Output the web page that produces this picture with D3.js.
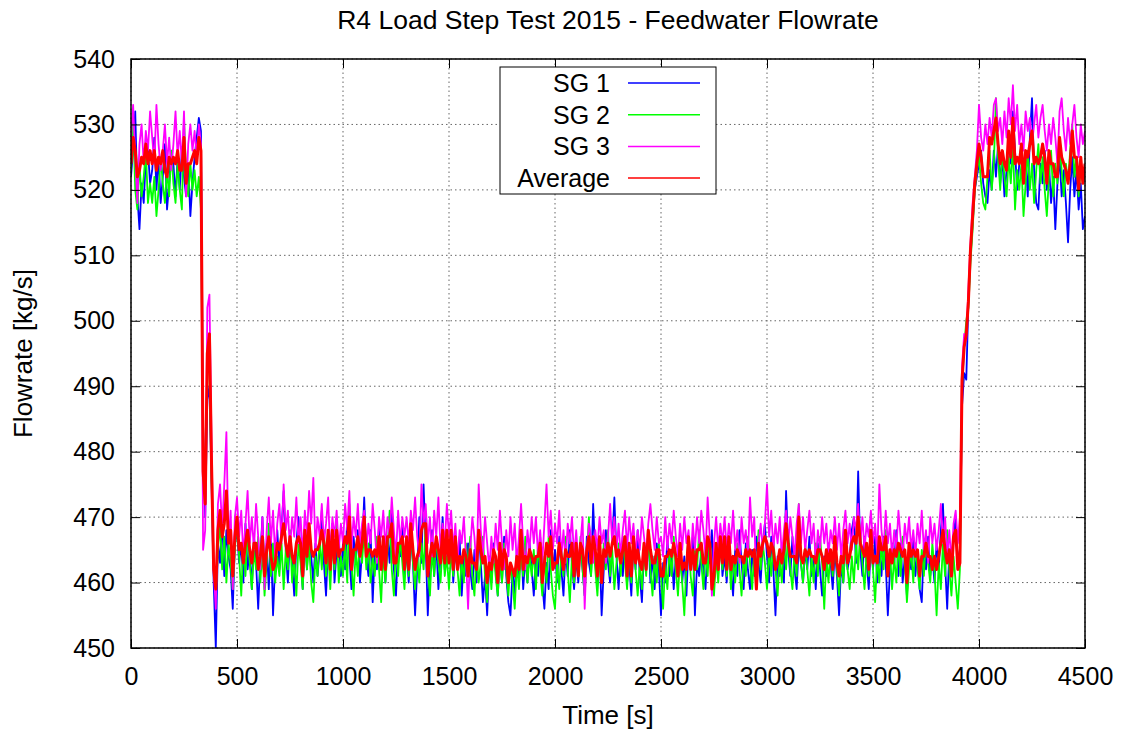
<!DOCTYPE html>
<html>
<head>
<meta charset="utf-8">
<script src="https://cdn.jsdelivr.net/npm/d3@7"></script>
<style>
  body { margin: 0; background: #fff; }
  text { font-family: "Liberation Sans", Arial, Helvetica, sans-serif; }
</style>
</head>
<body>
<div id="chart"></div>
<script>
// samples every 10 s, 0 .. 4500 s
var dt = 10;

var sg1 = [
  522,526,532,519,514,521,518,525,526,521,
  523,528,520,525,518,522,527,517,521,526,
  524,519,525,520,526,522,519,524,516,521,
  525,528,531,529,484,470,488,490,475,460,
  450,466,463,470,461,468,464,462,456,466,
  468,463,466,460,469,462,465,459,467,463,
  456,464,470,461,466,459,467,455,463,468,
  462,468,474,465,460,467,463,458,466,470,
  464,459,467,462,469,464,460,466,461,465,
  471,463,458,466,462,469,460,465,467,461,
  466,462,470,464,459,467,463,468,460,465,
  473,464,461,468,457,465,462,469,463,466,
  460,467,463,471,462,458,466,464,469,461,
  465,460,467,463,455,462,470,463,475,466,
  455,463,468,461,466,459,464,470,462,467,
  463,468,460,465,462,467,458,464,461,466,
  462,459,465,460,468,463,457,461,455,463,
  460,466,462,458,464,460,467,461,457,455,
  462,458,465,461,467,459,464,460,466,462,
  458,464,461,467,460,456,463,459,468,462,
  465,460,467,462,458,465,461,468,463,459,
  464,460,466,462,458,467,463,461,472,464,
  460,466,455,462,468,463,460,466,473,464,
  459,465,461,467,460,463,458,466,462,468,
  461,457,465,462,468,460,464,459,466,462,
  455,463,460,467,461,465,459,464,462,466,
  460,464,458,466,462,467,455,463,461,465,
  462,459,466,463,468,460,465,462,467,461,
  464,460,467,462,458,465,461,468,463,459,
  466,462,459,465,461,467,463,460,466,469,
  464,460,467,462,455,464,461,466,460,474,
  465,461,467,462,459,466,463,460,465,462,
  467,461,464,459,466,462,458,464,461,466,
  463,459,465,461,455,463,460,466,462,464,
  468,470,463,477,465,461,467,463,459,466,
  462,467,460,465,461,467,463,455,462,466,
  463,468,461,466,460,464,458,465,462,467,
  461,465,459,457,466,462,467,461,464,460,
  466,462,468,472,463,456,465,461,467,470,
  463,465,487,492,491,503,510,515,520,522,
  524,526,521,519,518,523,520,526,522,527,
  521,525,519,523,528,524,532,526,520,524,
  527,522,525,519,528,534,523,518,517,524,
  521,526,520,524,518,522,514,521,525,519,
  523,518,512,520,525,519,523,517,521,514,
  516
];

var sg2 = [
  523,531,520,517,524,519,522,526,518,521,
  518,522,516,520,525,521,518,523,519,526,
  521,518,524,520,517,531,522,519,524,520,
  523,519,522,517,478,475,494,492,476,463,
  458,465,469,462,467,460,466,463,459,465,
  470,464,458,466,461,468,463,459,465,462,
  467,460,465,458,463,469,461,466,460,464,
  461,466,459,465,462,468,460,464,458,466,
  463,459,467,462,466,460,457,464,461,467,
  462,468,461,465,459,466,462,469,460,464,
  461,466,460,472,463,458,465,461,467,463,
  468,462,466,460,464,461,467,462,457,465,
  460,465,471,462,458,466,461,467,463,459,
  466,461,468,463,459,464,460,466,462,469,
  462,458,465,461,467,463,460,466,461,464,
  459,465,461,468,462,458,464,460,466,462,
  467,461,458,465,460,463,467,461,457,464,
  459,465,461,458,464,460,466,462,458,463,
  460,456,463,459,465,461,467,460,464,461,
  465,459,466,462,458,464,460,467,462,458,
  456,463,459,465,461,467,462,457,464,460,
  465,461,467,462,458,464,470,461,466,462,
  458,464,460,466,462,468,461,465,459,463,
  466,461,467,463,459,465,460,466,462,458,
  463,459,465,461,467,462,458,464,460,466,
  461,456,463,459,465,461,467,462,458,464,
  460,455,463,467,461,458,465,462,468,463,
  459,465,461,467,462,458,464,460,466,462,
  467,461,465,459,464,460,466,462,458,464,
  461,467,463,459,465,461,468,462,466,463,
  459,465,461,467,462,458,464,460,466,462,
  468,462,459,465,461,472,463,460,466,462,
  458,464,460,466,461,467,463,456,464,460,
  465,461,467,462,458,464,460,466,462,459,
  464,460,466,462,468,463,459,465,461,467,
  462,457,464,460,466,462,468,461,465,459,
  464,460,466,461,467,463,457,462,465,460,
  466,462,459,465,461,467,463,460,466,462,
  455,463,459,466,461,468,462,458,464,460,
  456,462,490,496,500,502,509,514,520,523,
  525,521,518,517,522,526,520,524,534,525,
  520,526,522,519,525,521,527,517,523,520,
  524,516,521,526,520,524,518,523,527,521,
  525,520,516,522,526,519,524,521,527,523,
  519,524,521,526,530,522,525,519,524,521,
  523
];

var sg3 = [
  528,533,525,518,527,530,524,529,526,532,
  528,524,533,527,523,526,530,524,528,523,
  527,532,525,529,524,532,519,527,530,526,
  529,525,530,527,465,468,502,504,481,462,
  456,472,475,468,475,483,466,471,459,470,
  473,467,471,464,469,474,466,470,465,472,
  467,462,470,459,468,473,466,471,464,469,
  472,466,475,468,471,465,470,467,473,466,
  470,464,471,467,474,469,476,465,470,467,
  472,466,469,473,464,470,467,471,465,469,
  466,472,468,474,465,470,467,472,466,469,
  471,465,469,466,472,468,463,470,467,471,
  465,470,467,473,468,464,471,466,470,467,
  470,466,471,468,473,467,464,475,469,472,
  466,470,464,471,467,473,465,469,466,472,
  467,471,465,469,463,468,466,470,464,456,
  465,470,467,462,475,468,464,470,466,462,
  467,463,469,465,471,466,462,468,464,470,
  465,469,463,467,472,466,462,468,465,470,
  466,470,464,468,463,469,475,467,471,465,
  469,466,471,464,468,463,469,466,470,464,
  468,463,466,470,456,465,469,467,463,468,
  465,470,466,468,463,467,472,466,470,465,
  469,464,468,471,465,470,466,469,464,468,
  465,470,467,464,469,472,468,465,470,466,
  467,464,470,465,469,466,471,467,464,469,
  465,470,466,468,463,469,465,470,466,471,
  468,464,473,467,458,466,470,465,469,466,
  470,465,469,466,471,465,468,463,470,466,
  468,464,473,467,470,459,466,469,465,469,
  475,467,471,465,469,466,470,464,468,471,
  466,470,467,464,469,472,466,470,465,468,
  471,466,469,463,468,465,470,466,469,464,
  468,466,470,465,469,464,468,471,466,469,
  465,470,468,472,466,470,465,469,467,471,
  466,469,464,475,468,465,471,466,469,464,
  468,465,471,467,464,469,466,470,465,468,
  464,469,466,471,465,468,463,470,466,469,
  465,468,472,466,470,464,468,463,469,471,
  466,470,493,498,497,505,512,518,522,526,
  533,528,526,530,527,531,528,533,534,529,
  531,527,532,528,534,530,536,529,533,527,
  530,526,532,529,531,527,530,533,528,531,
  533,529,526,530,527,531,528,524,532,534,
  529,526,531,527,530,533,528,525,530,527,
  529
];

var avg = [
  524,528,526,522,523,525,524,527,524,526,
  524,526,523,525,524,526,523,522,525,524,
  525,524,526,523,523,528,521,524,524,525,
  526,524,528,526,477,472,495,498,478,462,
  459,468,471,467,469,474,466,468,461,467,
  470,465,466,463,466,468,465,463,466,466,
  462,464,467,461,465,467,464,462,463,466,
  465,467,469,466,464,467,464,463,466,467,
  466,461,468,464,469,465,464,465,465,466,
  468,466,463,468,462,468,463,468,464,465,
  465,467,466,470,462,465,465,467,464,466,
  470,464,465,465,464,465,464,467,462,467,
  462,467,467,469,463,463,466,466,467,462,
  467,462,469,465,462,464,465,468,469,469,
  461,464,466,464,467,465,463,468,463,468,
  463,468,462,467,462,464,463,465,464,461,
  465,463,463,462,468,465,463,464,460,463,
  462,465,464,460,466,462,465,464,460,463,
  462,461,464,462,468,462,464,463,465,464,
  463,464,464,466,460,463,466,464,467,462,
  463,463,466,464,462,465,464,464,466,461,
  466,461,466,465,461,465,467,463,467,465,
  461,467,460,465,464,466,464,466,467,464,
  465,463,465,467,461,466,461,467,463,465,
  463,462,466,462,468,465,463,463,465,465,
  461,461,464,464,465,464,466,464,461,466,
  462,463,462,467,462,465,462,465,465,466,
  463,463,467,466,459,461,466,462,467,463,
  467,462,467,462,464,463,465,464,464,463,
  465,464,465,464,465,459,466,464,466,467,
  466,464,466,465,462,463,465,463,465,469,
  466,464,464,464,463,470,464,463,465,464,
  465,464,464,463,465,465,464,462,465,463,
  465,462,467,463,461,464,463,468,463,464,
  466,467,466,470,466,465,464,466,462,468,
  463,464,463,467,465,465,467,461,465,463,
  465,464,466,465,464,465,460,466,464,465,
  464,465,461,464,464,466,464,464,462,464,
  462,464,466,468,465,463,465,461,467,468,
  462,463,491,496,498,503,511,516,521,524,
  527,525,522,522,522,528,527,529,531,527,
  524,526,524,523,529,525,531,524,525,524,
  527,521,526,525,527,529,524,525,524,525,
  527,525,521,526,524,524,522,522,528,525,
  524,523,521,524,529,525,525,520,525,521,
  524
];

var seriesNames = ["SG 1", "SG 2", "SG 3", "Average"];
var seriesColors = ["#0000ff", "#00ff00", "#ff00ff", "#ff0000"];
var xTicks = [0, 500, 1000, 1500, 2000, 2500, 3000, 3500, 4000, 4500];
var yTicks = [450, 460, 470, 480, 490, 500, 510, 520, 530, 540];

var margin = {top: 59, right: 40, bottom: 86, left: 131},
    width = 1125 - margin.left - margin.right,
    height = 734 - margin.top - margin.bottom;

var svg = d3.select("#chart")
  .append("svg")
    .attr("width", 1125)
    .attr("height", 734);

var x = d3.scaleLinear().domain([0, 4500]).range([0, width]);
var y = d3.scaleLinear().domain([450, 540]).range([height, 0]);

var g = svg.append("g")
  .attr("transform", "translate(" + margin.left + "," + margin.top + ")");

// grid (dotted, behind the data)
g.append("g").selectAll("line")
  .data(xTicks)
  .enter().append("line")
    .attr("x1", d => x(d)).attr("x2", d => x(d))
    .attr("y1", 0).attr("y2", height)
    .attr("stroke", "#666")
    .attr("stroke-width", 1)
    .attr("stroke-dasharray", "1.5,3");

g.append("g").selectAll("line")
  .data(yTicks)
  .enter().append("line")
    .attr("x1", 0).attr("x2", width)
    .attr("y1", d => y(d)).attr("y2", d => y(d))
    .attr("stroke", "#666")
    .attr("stroke-width", 1)
    .attr("stroke-dasharray", "1.5,3");

svg.append("defs").append("clipPath")
    .attr("id", "clip")
  .append("rect")
    .attr("width", width)
    .attr("height", height);

var line = d3.line()
  .x(function(d, i) { return x(i * dt); })
  .y(function(d) { return y(d); });

var allSeries = [sg1, sg2, sg3, avg];

g.append("g")
  .attr("clip-path", "url(#clip)")
  .selectAll("path")
  .data(allSeries)
  .enter().append("path")
    .attr("d", line)
    .attr("fill", "none")
    .attr("stroke", (d, i) => seriesColors[i])
    .attr("stroke-width", (d, i) => i == 3 ? 3 : 1.8)
    .attr("stroke-linejoin", "round");

// axes, ticks pointing inward, mirrored on top/right
var fontSize = 25;

g.append("g")
  .call(d3.axisLeft(y).tickValues(yTicks).tickSizeInner(-9).tickSizeOuter(0).tickPadding(16));
g.append("g")
  .attr("transform", "translate(0," + height + ")")
  .call(d3.axisBottom(x).tickValues(xTicks).tickFormat(d3.format("d"))
    .tickSizeInner(-9).tickSizeOuter(0).tickPadding(19));
g.append("g")
  .attr("transform", "translate(" + width + ",0)")
  .call(d3.axisRight(y).tickValues(yTicks).tickSizeInner(-9).tickSizeOuter(0).tickFormat(""));
g.append("g")
  .call(d3.axisTop(x).tickValues(xTicks).tickSizeInner(-9).tickSizeOuter(0).tickFormat(""));

g.selectAll(".domain").remove();
g.selectAll(".tick line").attr("stroke", "#000").attr("stroke-width", 1);
g.selectAll(".tick text")
  .attr("fill", "#000")
  .style("font-size", fontSize + "px")
  .style("font-family", '"Liberation Sans", Arial, Helvetica, sans-serif');

// border
g.append("rect")
  .attr("width", width)
  .attr("height", height)
  .attr("fill", "none")
  .attr("stroke", "#000")
  .attr("stroke-width", 1.5);

// title and labels
svg.append("text")
  .attr("x", margin.left + width / 2)
  .attr("y", 29)
  .attr("text-anchor", "middle")
  .style("font-size", "26.5px")
  .text("R4 Load Step Test 2015 - Feedwater Flowrate");

svg.append("text")
  .attr("x", margin.left + width / 2)
  .attr("y", 724)
  .attr("text-anchor", "middle")
  .style("font-size", "26px")
  .text("Time [s]");

svg.append("text")
  .attr("transform", "translate(32," + (margin.top + height / 2) + ") rotate(-90)")
  .attr("text-anchor", "middle")
  .style("font-size", "26px")
  .text("Flowrate [kg/s]");

// legend
var legend = g.append("g")
  .attr("transform", "translate(369,8)");

legend.append("rect")
  .attr("width", 216)
  .attr("height", 127)
  .attr("fill", "#fff")
  .attr("stroke", "#000")
  .attr("stroke-width", 1);

var items = legend.selectAll(".item")
  .data(seriesNames)
  .enter().append("g")
    .attr("class", "item")
    .attr("transform", (d, i) => "translate(0," + (16 + i * 31.7) + ")");

items.append("text")
  .attr("x", 110)
  .attr("y", 9)
  .attr("text-anchor", "end")
  .style("font-size", "25px")
  .text(d => d);

items.append("line")
  .attr("x1", 128).attr("x2", 200)
  .attr("y1", 0).attr("y2", 0)
  .attr("stroke", (d, i) => seriesColors[i])
  .attr("stroke-width", 1.5);
</script>
</body>
</html>
